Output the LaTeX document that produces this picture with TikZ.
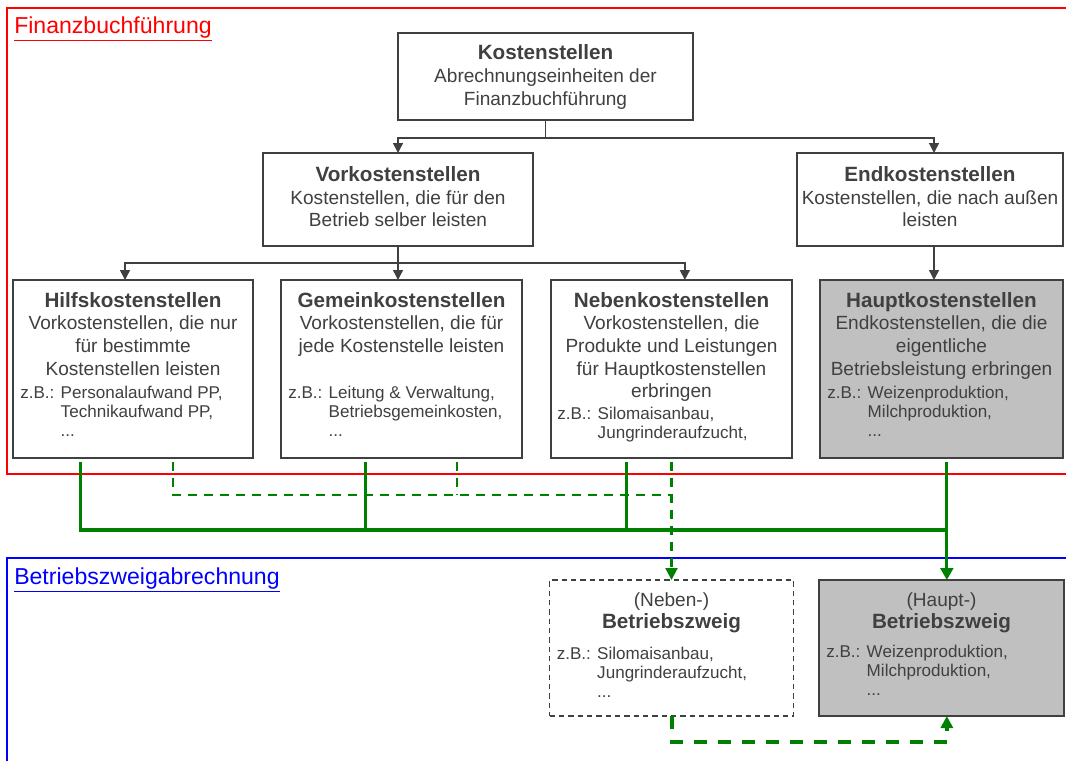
\documentclass[tikz,border=0pt]{standalone}
\usepackage{fontspec}
\setmainfont{Liberation Sans}
\usetikzlibrary{arrows.meta,positioning,calc}

\definecolor{ink}{HTML}{404040}
\definecolor{boxgray}{HTML}{C0C0C0}
\definecolor{flowgreen}{HTML}{008000}

\newcommand{\headline}[1]{{\fontsize{15.5}{17}\selectfont\bfseries #1}}

\begin{document}
\begin{tikzpicture}[
    x=0.75pt, y=-0.75pt,
    box/.style={rectangle, draw=ink, fill=white, line width=1.3pt, anchor=north west, inner sep=0pt, outer sep=0pt},
    mainbox/.style={box, fill=boxgray},
    ghostbox/.style={box, dash pattern=on 4pt off 3pt, line width=1.2pt},
    desc/.style={anchor=north, align=center, inner sep=0pt, text=ink, font=\fontsize{14.3}{17}\selectfont},
    example/.style={anchor=north west, inner sep=0pt, text=ink, font=\fontsize{12.8}{14.3}\selectfont},
    area/.style={anchor=west, inner sep=0pt, font=\fontsize{17.3}{20}\selectfont},
    arrow/.style={-{Triangle[length=7.5pt, width=7.5pt]}, ink, line width=1.1pt},
    flow/.style={flowgreen, line width=2.3pt},
    dashedflow/.style={flowgreen, line width=1.6pt, dash pattern=on 7pt off 5pt},
    bigdash/.style={flowgreen, line width=3pt, dash pattern=on 10pt off 8pt}
]
\useasboundingbox (0,0) rectangle (1066,760);

% Areas
\draw[red, line width=0.8pt] (7,8) rectangle (1080,474);
\node[area, text=red] (fibu) at (14,29) {\underline{Finanzbuchführung}};
\draw[blue, line width=0.8pt] (7,558) rectangle (1080,780);
\node[area, text=blue] (bza) at (14,580) {\underline{Betriebszweigabrechnung}};

% Kostenstellen
\node[box, minimum width=221.25pt, minimum height=65.25pt] (kost) at (398,33) {};
\node[desc, below=8.7pt of kost.north] (kost-t) {\headline{Kostenstellen}\\Abrechnungseinheiten der\\Finanzbuchführung};

% Vor- und Endkostenstellen
\node[box, minimum width=202.5pt, minimum height=69.75pt] (vork) at (263,153) {};
\node[desc, below=10pt of vork.north] (vork-t) {\headline{Vorkostenstellen}\\Kostenstellen, die für den\\Betrieb selber leisten};
\node[box, minimum width=199.5pt, minimum height=69.75pt] (endk) at (797,153) {};
\node[desc, below=10pt of endk.north] (endk-t) {\headline{Endkostenstellen}\\Kostenstellen, die nach außen\\leisten};

% Hilfs-, Gemein-, Neben- und Hauptkostenstellen
\node[box, minimum width=180pt, minimum height=133.5pt] (hilf) at (13,280) {};
\node[box, minimum width=180.75pt, minimum height=133.5pt, right=21pt of hilf] (gem) {};
\node[box, minimum width=180.75pt, minimum height=133.5pt, right=21.75pt of gem] (neb) {};
\node[mainbox, minimum width=182.25pt, minimum height=133.5pt, right=21pt of neb] (haupt) {};

\node[desc, below=9pt of hilf.north] (hilf-t) {\headline{Hilfskostenstellen}\\Vorkostenstellen, die nur\\für bestimmte\\Kostenstellen leisten};
\node[example] (hilf-ex) at ([shift={(7,105)}]hilf.north west)
  {\begin{tabular}{@{}l@{ }l@{}}z.B.: & Personalaufwand PP,\\ & Technikaufwand PP,\\ & ...\end{tabular}};

\node[desc, below=9pt of gem.north] (gem-t) {\headline{Gemeinkostenstellen}\\Vorkostenstellen, die für\\jede Kostenstelle leisten};
\node[example] (gem-ex) at ([shift={(7,105)}]gem.north west)
  {\begin{tabular}{@{}l@{ }l@{}}z.B.: & Leitung \& Verwaltung,\\ & Betriebsgemeinkosten,\\ & ...\end{tabular}};

\node[desc, below=9pt of neb.north] (neb-t) {\headline{Nebenkostenstellen}\\Vorkostenstellen, die\\Produkte und Leistungen\\für Hauptkostenstellen\\erbringen};
\node[example] (neb-ex) at ([shift={(6,126)}]neb.north west)
  {\begin{tabular}{@{}l@{ }l@{}}z.B.: & Silomaisanbau,\\ & Jungrinderaufzucht,\end{tabular}};

\node[desc, below=9pt of haupt.north] (haupt-t) {\headline{Hauptkostenstellen}\\Endkostenstellen, die die\\eigentliche\\Betriebsleistung erbringen};
\node[example] (haupt-ex) at ([shift={(7,105)}]haupt.north west)
  {\begin{tabular}{@{}l@{ }l@{}}z.B.: & Weizenproduktion,\\ & Milchproduktion,\\ & ...\end{tabular}};

% Betriebszweige
\node[ghostbox, minimum width=183pt, minimum height=102pt, below=91.5pt of neb] (nbz) {};
\node[desc, below=9pt of nbz.north] (nbz-t) {(Neben-)\\\headline{Betriebszweig}};
\node[example] (nbz-ex) at ([shift={(7,66)}]nbz.north west)
  {\begin{tabular}{@{}l@{ }l@{}}z.B.: & Silomaisanbau,\\ & Jungrinderaufzucht,\\ & ...\end{tabular}};

\node[mainbox, minimum width=183.75pt, minimum height=102pt, below=91.5pt of haupt] (hbz) {};
\node[desc, below=9pt of hbz.north] (hbz-t) {(Haupt-)\\\headline{Betriebszweig}};
\node[example] (hbz-ex) at ([shift={(7,64)}]hbz.north west)
  {\begin{tabular}{@{}l@{ }l@{}}z.B.: & Weizenproduktion,\\ & Milchproduktion,\\ & ...\end{tabular}};

% Hierarchy
\draw[arrow] (kost.south) -- ++(0,18) -| (vork.north);
\draw[arrow] (kost.south) -- ++(0,18) -| ([xshift=3pt]endk.north);
\draw[arrow] (vork.south) -- ++(0,17) -| ([xshift=-6pt]hilf.north);
\draw[arrow] (vork.south) -- (vork.south |- gem.north);
\draw[arrow] (vork.south) -- ++(0,17) -| ([xshift=10pt]neb.north);
\draw[arrow] ([xshift=3pt]endk.south) -- ([xshift=3pt]endk.south |- haupt.north);

% Cost flows
\coordinate (bus) at (0,530);
\coordinate (dbus) at (0,495);
\coordinate (hilf-tap) at ($(hilf.south west)!.28!(hilf.south east)$);
\coordinate (hilf-dtap) at ($(hilf.south west)!.667!(hilf.south east)$);
\coordinate (gem-tap) at ($(gem.south west)!.35!(gem.south east)$);
\coordinate (gem-dtap) at ($(gem.south west)!.73!(gem.south east)$);
\coordinate (neb-tap) at ($(neb.south west)!.315!(neb.south east)$);
\coordinate (haupt-tap) at ([xshift=4pt]haupt.south);

\draw[flow, shorten <=3pt] (hilf-tap) |- (bus -| haupt-tap);
\draw[flow, shorten <=3pt] (gem-tap) -- (gem-tap |- bus);
\draw[flow, shorten <=3pt] (neb-tap) -- (neb-tap |- bus);
\draw[flow, -{Triangle[length=9pt, width=9.5pt]}, shorten <=3pt] (haupt-tap) -- (haupt-tap |- hbz.north);

\draw[dashedflow, shorten <=3pt] (hilf-dtap) |- (dbus -| neb.south);
\draw[dashedflow, shorten <=3pt] (gem-dtap) -- (gem-dtap |- dbus);
\draw[dashedflow, -{Triangle[length=9pt, width=9pt]}, shorten <=3pt] (neb.south) -- (neb.south |- nbz.north);

\draw[bigdash, -{Triangle[length=9pt, width=9pt]}] (nbz.south) -- ++(0,26) -| (haupt-tap |- hbz.south);

\end{tikzpicture}
\end{document}
